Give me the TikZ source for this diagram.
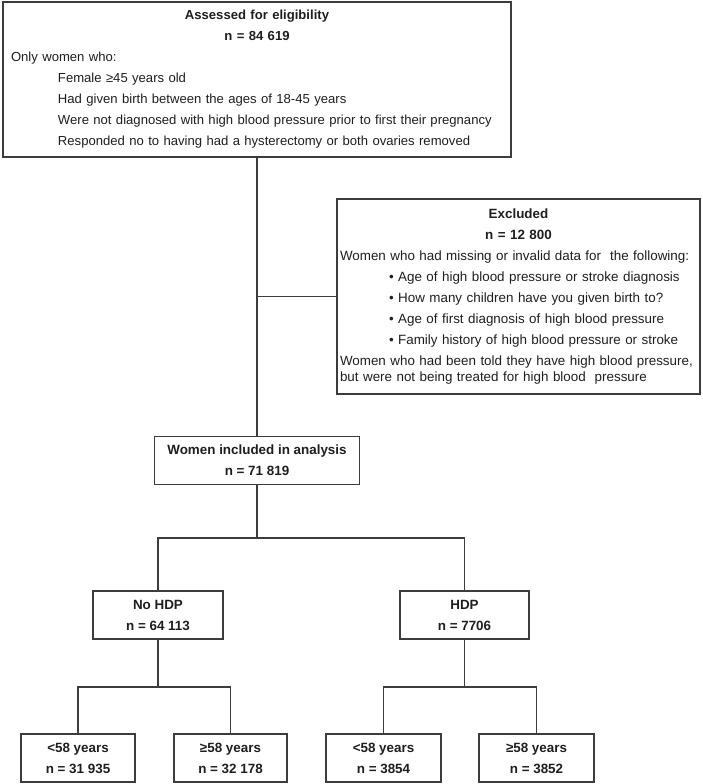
\documentclass[tikz,border=0pt]{standalone}
\usepackage{fontspec}
\setmainfont{Liberation Sans}
\definecolor{linegray}{HTML}{3C3C3C}
\definecolor{inkgray}{HTML}{1E1E1E}
\tikzstyle{box}=[draw=linegray,line width=1.2pt,text=inkgray,inner sep=0pt,font=\fontsize{13.4}{21}\selectfont]
\tikzstyle{listbox}=[box,align=left]
\tikzstyle{countbox}=[box,align=center,minimum height=48pt,font=\fontsize{13.4}{21}\selectfont\bfseries]
\newcommand{\countnode}[4]{\node[countbox,minimum width=#3pt,at={#2}] (#1) {#4};}
\newcommand{\branch}[4]{\draw[link] (#2) |- (#1) -| (#3); \draw[link] (#4) -- (#1);}
\newcommand{\head}[1]{\makebox[\hsize][c]{\bfseries #1}}
\tikzset{
	link/.style={draw=linegray,line width=1.2pt},
}

\begin{document}
\begin{tikzpicture}[x=1pt,y=1pt]
    \useasboundingbox (0,0) rectangle (702,-784);

    \node[listbox,text width=492pt,inner xsep=8pt,minimum height=155pt,font=\fontsize{13.1}{21}\selectfont] (assess) at (257,-79.5) {\head{Assessed for eligibility}\\
        \head{n = 84 619}\\
        Only women who:\\
        \hspace*{47pt}Female ≥45 years old\\
        \hspace*{47pt}Had given birth between the ages of 18-45 years\\
        \hspace*{47pt}Were not diagnosed with high blood pressure prior to first their pregnancy\\
        \hspace*{47pt}Responded no to having had a hysterectomy or both ovaries removed};
    \node[listbox,text width=357pt,inner xsep=3pt,minimum height=195pt] (excl) at (518.5,-296.5) {\head{Excluded}\\
        \head{n = 12 800}\\
        Women who had missing or invalid data for\hspace{9pt}the following:\\
        \hspace*{49pt}• Age of high blood pressure or stroke diagnosis\\
        \hspace*{49pt}• How many children have you given birth to?\\
        \hspace*{49pt}• Age of first diagnosis of high blood pressure\\
        \hspace*{49pt}• Family history of high blood pressure or stroke\\
        Women who had been told they have high blood pressure,\\[-5pt]
        but were not being treated for high blood\ \ pressure};

    \countnode{women}{(257,-460.5)}{205}{Women included in analysis\\ n = 71 819}
    \countnode{nohdp}{(158,-615)}{130}{No HDP\\ n = 64 113}
    \countnode{hdp}{(464.5,-615)}{129}{HDP\\ n = 7706}
    \countnode{noyoung}{(78,-758)}{114}{<58 years\\ n = 31 935}
    \countnode{noold}{(230.5,-758)}{113}{≥58 years\\ n = 32 178}
    \countnode{hdpyoung}{(383.5,-758)}{115}{<58 years\\ n = 3854}
    \countnode{hdpold}{(536.5,-758)}{115}{≥58 years\\ n = 3852}

    \coordinate (jx) at (assess.south |- excl.west);
    \coordinate (jw) at (257,-538);
    \coordinate (jn) at (158,-687);
    \coordinate (jh) at (464.5,-687);

    \draw[link] (assess.south) -- (women.north);
    \draw[link] (jx) -- (excl.west);
    \branch{jw}{nohdp.north}{hdp.north}{women.south}
    \branch{jn}{noyoung.north}{noold.north}{nohdp.south}
    \branch{jh}{hdpyoung.north}{hdpold.north}{hdp.south}
\end{tikzpicture}
\end{document}
